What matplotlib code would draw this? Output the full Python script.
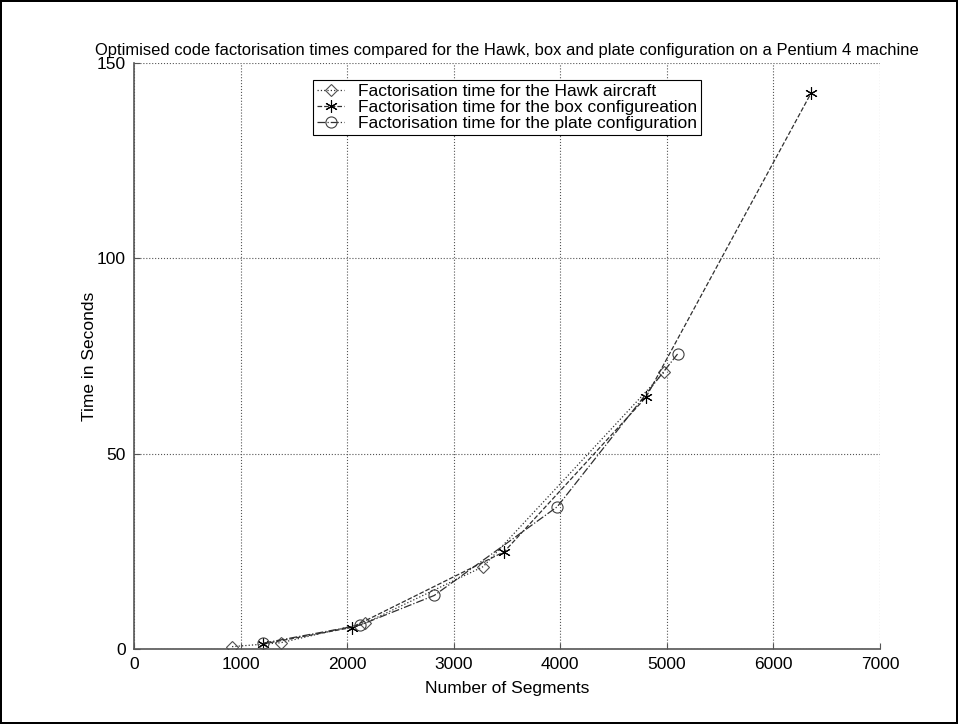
import matplotlib
matplotlib.use("Agg")
import matplotlib.pyplot as plt

plt.rcParams['font.family'] = ['Liberation Sans', 'DejaVu Sans']

# Hawk aircraft
hawk_x = [920, 1376, 2167, 3277, 4972]
hawk_y = [0.6, 1.6, 6.6, 21.1, 70.8]
# box configuration
box_x = [1213, 2042, 3474, 4803, 6351]
box_y = [1.3, 5.5, 24.9, 64.4, 142.2]
# plate configuration
plate_x = [1213, 2120, 2817, 3971, 5100]
plate_y = [1.5, 6.1, 13.7, 36.4, 75.5]

labels = ["Factorisation time for the Hawk aircraft",
          "Factorisation time for the box configureation",
          "Factorisation time for the plate configuration"]

fig = plt.figure(figsize=(9.58, 7.24), dpi=100)
fig.patch.set_edgecolor("black")
fig.patch.set_linewidth(1.5)
ax = fig.add_axes([0.1399, 0.1036, 0.7787, 0.8094])

lc = "#303030"
ax.plot(hawk_x, hawk_y, linestyle=":", color=lc, lw=0.9, marker="D", ms=6.5,
        mfc="none", mec="#505050", mew=0.8, label=labels[0])
ax.plot(box_x, box_y, linestyle="--", color=lc, lw=0.9, marker=(6, 2, 0), ms=9,
        mec="black", mew=0.8, label=labels[1])
ax.plot(plate_x, plate_y, linestyle="-.", color=lc, lw=0.9, marker="o", ms=8,
        mfc="none", mec="#404040", mew=0.8, label=labels[2])

ax.set_xlim(0, 7000)
ax.set_ylim(0, 150)
ax.set_xticks(range(0, 7001, 1000))
ax.set_yticks([0, 50, 100, 150])
ax.grid(True, linestyle=":", color="#555555", lw=0.8)
ax.tick_params(direction="in", labelsize=12.5, length=4, pad=6, color="#555555")
for s in ["top", "right"]:
    ax.spines[s].set_visible(False)
for s in ["left", "bottom"]:
    ax.spines[s].set_color("#555555")
    ax.spines[s].set_linewidth(1.2)

ax.set_xlabel("Number of Segments", fontsize=12.5, labelpad=6)
ax.set_ylabel("Time in Seconds", fontsize=12.5, labelpad=0)
ax.set_title("Optimised code factorisation times compared for the Hawk, box and plate "
             "configuration on a Pentium 4 machine", fontsize=11.9, pad=6)

leg = ax.legend(loc="upper center", bbox_to_anchor=(0.5, 0.985), fontsize=12.5,
                fancybox=False, framealpha=1, edgecolor="black",
                handlelength=1.6, borderpad=0.2, labelspacing=0.05)
leg.get_frame().set_linewidth(0.8)

fig.savefig("out.png", dpi=100)
